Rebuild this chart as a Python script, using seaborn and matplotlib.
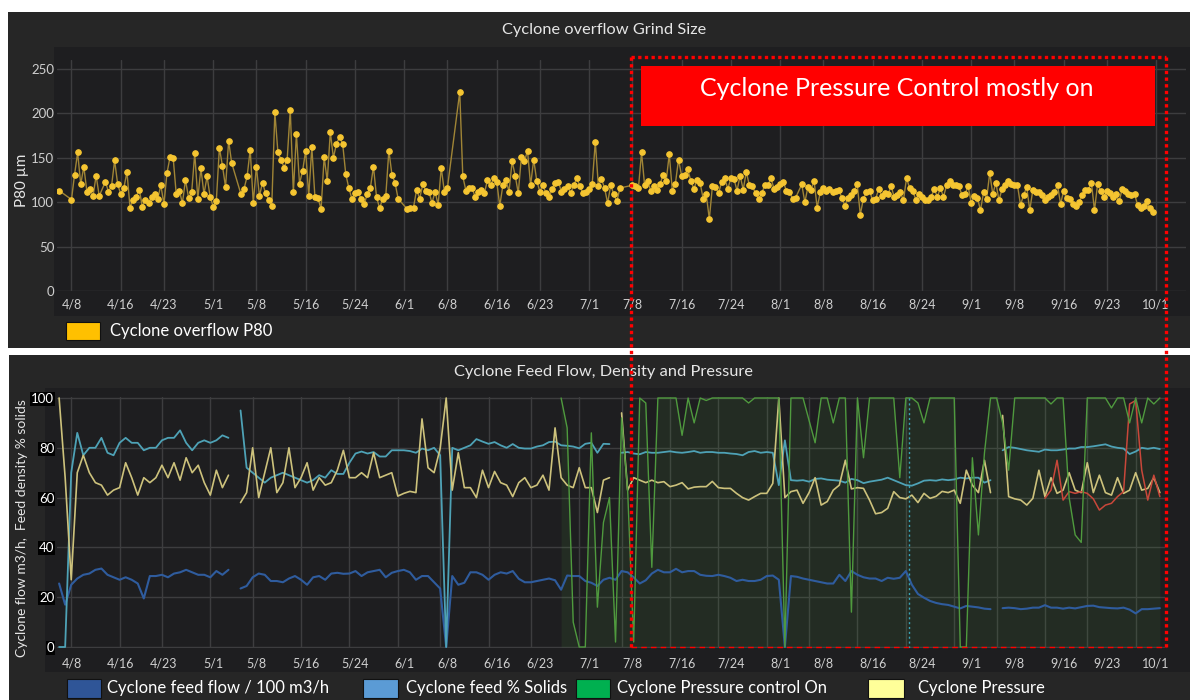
import numpy as np
import pandas as pd
import matplotlib
matplotlib.use("Agg")
import matplotlib.pyplot as plt
from matplotlib.patches import Rectangle
from matplotlib.lines import Line2D
import seaborn as sns

nan = np.nan

# ---- data ----

# cyclone overflow P80 (um), one sample every 12 h from 6 Apr
P80_START = "2021-04-06"
p80_um = [
    113, nan, nan, nan,
    103, 131, 156, 120, 140, 112, 115, 107, 130, 107,
    nan,
    123, 112, 118, 147, 120, 109, 116, 134, 94, 103, 106, 114, 95, 103, 99, 106, 109, 104, 119, 98,
    133, 151, 150, 109, 113, 99, 125, 105, 111, 155, 104, 138, 109, 129, 106, 95, 101, 161, 141, 117,
    169, 144,
    nan, nan,
    109, 115, 129, 159, 99, 140, 107, 122, 110, 103, 96, 201, 156, 148, 139, 148, 204, 111, 177, 121,
    135, 158, 107, 162, 106, 105, 92, 151, 124, 179, 150, 166, 173, 166, 132, 116,
    104, 110, 111, 104, 98, 109, 116, 140, 106, 93, 104, 107, 158, 131, 122, 104,
    nan, nan,
    92, 93, 94, 114, 104, 120, 113, 112, 99, 112, 97, 139, 112, 116,
    nan, nan, nan,
    224, 129, 113, 116, 116, 106, 111, 114, 110, 125, 119, 127, 123, 96, 119, 125, 112, 146, 130, 110,
    151, 146, 158, 119, 148, 124, 112, 119, 110, 106, 115, 122, 123, 112, 115, 118, 110, 119, 127, 118,
    110, 112, 115, 121, 168, 118, 126, 116, 99, 119, 109, 101, 116,
    nan, nan, nan,
    119, 118, 116,
    156, 119, 124, 113, 118, 114, 120, 131, 124, 154, 113, 121, 148, 130, 131, 137, 124, 115, 125, 122,
    104, 109, 81, 118, 117, 110, 123, 127, 115, 127, 126, 113, 130, 114, 134, 119, 118, 110, 104, 110,
    119, 119, 127, 115, 117, 120, 123, 113, 112, 104, 105,
    nan,
    120, 100, 117, 114, 124, 94, 111, 116, 113, 115, 112, 113, 114, 105, 96, 105, 108, 113, 120, 86,
    104, 111, 113, 102, 104, 115, 107, 110, 109, 118, 106, 108, 111, 102, 127, 116,
    113, 103, 109, 106, 102, 103, 106, 115, 106, 116, 106, 119, 124, 119, 119, 118, 108, 109, 118, 99,
    107, 105, 91, 111, 104, 133, 109, 122, 102, 115, 119, 124, 121, 119, 119, 97, 108, 117, 91, 114,
    111, 111, 108, 103, 106, 108, 111, 119, 98, 113, 105, 104, 98, 96, 100, 108, 114, 114, 122, 91,
    120, 113, 106, 113, 110, 106, 109, 101, 115, 113, 109, 108, 109, 97, 94, 96, 101, 93, 89,
]

# cyclone feed, one sample per day from 6 Apr
FEED_START = "2021-04-06"
feed_flow = [  # m3/h / 100
    25.5, 17, 25, 27.5, 29, 29.5, 31, 31.5, 29, 28, 27, 28, 27, 25.5, 19.5, 28.5, 28.5, 29, 28, 29.5,
    30, 31, 30, 29, 29, 28, 30.5, 29, 31, nan, 23.5, 24.5, 28, 29.5, 29, 26.5, 26.5, 26, 27.5, 28.5,
    27, 25, 28, 28.5, 27, 29.5,
    29.8, 29.4, 29.5, 30.5, 28.5, 30, 30.5, 31, 28, 29.8, 30.5, 31, 30, 27, 28.5, 28.5, 26, 23.5, 0, 28.5,
    25, 25.8, 30, 30, 29, 27, 29, 30, 29.5, 30.5, 27.4, 26, 26, 26.5, 27, 27.5, 26.8, 23, 28.7, 28.5,
    28.5, 26.5, 25.8, 24.5, 27, 27.8, 27,
    30.5, 30, 28, 25.5, 26.8, 29.5, 31, 30, 30, 31.4, 30, 30.5, 30.5, 29, 28.6, 28.5, 29, 28.5, 27.8, 26.5,
    27, 26.5, 26.5, 27, 28.5, 28.7, 27, 0, 28.5, 28.2, 27.5, 27, 26.5, 26, 25.5, 25.5, 29, 26.5, 30.5, 29,
    28, 27.5, 27.5, 26.5, 27.8, 27.4,
    27.8, 30.5, 25, 21.3, 19.8, 18.5, 17.7, 17.2, 16.9, 16.2, 15.5, 16.5, 16.2, 15.9, 15.4, 15.2, nan, 15.6,
    15.8, 15.6, 15.2, 15.4, 15.8, 15.8, 16.8, 15.8, 15.8, 15.4, 15.8, 15.5, 16, 16.5, 16.6, 16, 15.8, 15.6,
    15.5, 15.8, 15, 13.5, 15.2, 15.2, 15.4, 15.6,
]
feed_solids = [  # % solids
    0, 0, 70, 86, 77, 80, 80, 84, 78, 77, 82, 84, 82, 82, 79, 80, 80, 83, 84, 84,
    87, 82, 79, 82, 83, 82, 83, 85, 84, nan, 95, 72, 70, 68, 66, 68, 69, 70, 69, 68,
    67, 66, 67, 69, 68, 71,
    69.5, 69.5, 74, 77.7, 78.5, 77.7, 78.3, 76.5, 76.5, 79, 79, 79, 78.7, 78, 79.7, 79, 80, 77, 0, 80,
    79, 80, 81, 83.5, 82.5, 81.6, 82.3, 81, 80, 81.5, 80, 79.7, 79.7, 80.5, 81, 82.3, 82.5, 81, 80.8, 80.5,
    79.8, 81.6, 82, 78, 81.6, 81.5, nan,
    78, 78.3, 77.7, 77.4, 78.3, 78, 78, 78.3, 78.6, 78.2, 78, 78.3, 78.7, 78, 78.3, 78.3, 78, 78, 77.7, 77.5,
    77, 78.3, 78.7, 78, 78.3, 78, 65, 83, 67, 66.8, 67, 66.4, 67.5, 67.7, 67.2, 67, 66.8, 66, 67.5, 67,
    65.8, 66.4, 66.8, 67.2, 68, 67,
    66, 65, 64.8, 65.7, 66.8, 67, 66.8, 67.3, 67, 67.3, 68, 67.7, 68, 68, 66, 67, nan, 79,
    80.3, 80, 79.5, 79, 78.7, 78.4, 79.3, 79, 79, 79.3, 79.7, 79.7, 80.3, 80.3, 80.6, 81, 81.4, 80.5,
    80, 79.7, 77.5, 78.5, 80, 79.6, 80, 79.5,
]
cyclone_pressure = [
    100, 68, 27, 70, 77, 70, 66, 65, 61, 63, 64, 74, 68, 61, 68, 66, 68, 73, 68, 74,
    67, 76, 70, 73, 66, 61, 71, 64, 69, nan, 58, 62, 80, 60, 70, 80, 62, 66, 80, 64,
    68, 74, 63, 68, 65, 66,
    71, 79, 68, 68, 70, 68, 78, 68, 69, 70, 60.6, 61.7, 62.5, 62, 91.6, 72, 70, 79.7, 100, 63,
    78, 64, 64, 60, 71, 64, 70.5, 66, 65, 60.4, 66, 68, 64, 65, 69, 63, 88, 68, 65, 64,
    72, 64, 64, 54, 67, 68, nan,
    94, 63, 68, 67, 66, 67, 66, 66.4, 64.4, 65, 66, 63.5, 64.2, 64.4, 64.4, 66.5, 64, 63.7, 63.7, 61.7,
    60, 59, 60.4, 61.7, 61.7, 65.7, 100, 60, 62.4, 63, 57.7, 62, 68, 57, 58.4, 63, 65, 75, 63.5, 64,
    63.7, 59, 53.5, 54, 55.7, 62.4,
    60, 59.5, 61, 58, 61.7, 59.7, 60.5, 62.5, 62, 63, 57.7, 71, 65, 62, 75, 62, nan, 93,
    60.4, 59.5, 59, 57, 59.7, 71, 60.4, 68, 61.7, 63, 70, 63, 62, 74, 62, 69, 62, 61,
    68, 61.7, 63, 70, 63, 63.7, 68, 62,
]
pressure_control_on = [nan] * 83 + [
    100, 88, 10, 0, 0, 86, 16, 50, 60, 2,
    92, 63, 2, 100, 98, 32, 100, 100, 100, 100, 85, 100, 90, 100, 99, 100, 100, 100, 100, 100,
    100, 98, 100, 100, 100, 100, 100, 0, 100, 100, 100, 91, 82, 100, 100, 90, 100, 100, 14, 100,
    76, 100, 100, 100, 100, 100,
    68, 100, 100, 98, 90, 100, 100, 100, 100, 100, 0, 0, 76, 45, 78, 100, 100, 90,
    71, 100, 100, 100, 100, 100, 100, 97.6, 100, 100, 60, 45, 42, 100, 100, 100, 100, 96,
    100, 100, 90, 100, 90, 100, 97.6, 100,
]
cyclone_pressure_2 = [nan] * 163 + [
    59.7, 63, 75, 59, 62.4, 61.7, 62.4, 61.7, 59.5, 55, 57, 57.7, 60.4, 62.4, 97.6, 99, 71, 59, 69, 60.4,
]

TICK_LABELS = ["4/8", "4/16", "4/23", "5/1", "5/8", "5/16", "5/24", "6/1", "6/8", "6/16", "6/23", "7/1",
               "7/8", "7/16", "7/24", "8/1", "8/8", "8/16", "8/24", "9/1", "9/8", "9/16", "9/23", "10/1"]
YEAR = 2021
XLIM = (pd.Timestamp("2021-04-05 15:36"), pd.Timestamp("2021-10-05 20:24"))
MARKER_DATE = pd.Timestamp("2021-08-24 12:00")

assert len(p80_um) == 356
for s in (feed_flow, feed_solids, cyclone_pressure, pressure_control_on, cyclone_pressure_2):
    assert len(s) == 183, len(s)

# ---- layout helpers (figure pixels) ----
W, H = 1190, 700
PANEL = "#262626"
PLOT_BG = "#1e1e20"
GRID = "#3d3d3f"
TICK_COLOR = "#cfcfcf"


def rect_px(x0, y0, x1, y1):
    return [x0 / W, 1 - y1 / H, (x1 - x0) / W, (y1 - y0) / H]


def add_box(fig, x0, y0, x1, y1, **kw):
    l, b, w, h = rect_px(x0, y0, x1, y1)
    fig.add_artist(Rectangle((l, b), w, h, transform=fig.transFigure, **kw))


def text_px(fig, x, y, s, **kw):
    fig.text(x / W, 1 - y / H, s, **kw)


def style_axes(ax, tick_dates):
    ax.set_facecolor(PLOT_BG)
    for sp in ax.spines.values():
        sp.set_visible(False)
    ax.grid(True, color=GRID, lw=1)
    ax.set_xlim(XLIM)
    ax.set_xticks(tick_dates)
    ax.set_xlabel("")
    ax.set_ylabel("")
    ax.tick_params(length=0, colors=TICK_COLOR, labelsize=9)


sns.set_theme(style="dark")
plt.rcParams["font.family"] = ["Lato", "DejaVu Sans"]

fig = plt.figure(figsize=(W / 100, H / 100), dpi=100, facecolor="white")

# panel backgrounds
add_box(fig, 8, 12, 1190, 348, facecolor=PANEL, edgecolor="none", zorder=-3)
add_box(fig, 9, 355, 1190, 700, facecolor=PANEL, edgecolor="none", zorder=-3)
add_box(fig, 54, 47, 1190, 316, facecolor=PLOT_BG, edgecolor="none", zorder=-2)
add_box(fig, 45, 388, 1190, 672, facecolor=PLOT_BG, edgecolor="none", zorder=-2)

tick_dates = [pd.Timestamp(f"{YEAR}/{t}") for t in TICK_LABELS]

# ---- top: grind size ----
ax1 = fig.add_axes(rect_px(57, 60, 1186, 291))
p80 = pd.DataFrame({
    "time": pd.date_range(P80_START, periods=len(p80_um), freq="12h"),
    "p80": p80_um,
}).dropna()
sns.lineplot(data=p80, x="time", y="p80", ax=ax1, estimator=None, color="#a08536", lw=1,
             marker="o", markersize=4.0, markerfacecolor="#f5c531", markeredgecolor="#f5c531")
style_axes(ax1, tick_dates)
ax1.set_xticklabels(TICK_LABELS)
ax1.set_ylim(0, 260.1)
ax1.set_yticks([0, 50, 100, 150, 200, 250])
ax1.tick_params(axis="x", pad=5.5)
ax1.tick_params(axis="y", pad=2, labelsize=9.5)

text_px(fig, 604, 30, "Cyclone overflow Grind Size", ha="center", va="center", color="#e6e6e6", fontsize=11.8)
text_px(fig, 22, 180, "P80 µm", ha="center", va="center", rotation=90, color="#e6e6e6", fontsize=11)
add_box(fig, 66, 322, 100, 340, facecolor="#FFC000", edgecolor="#111111", lw=0.8)
text_px(fig, 110, 331, "Cyclone overflow P80", ha="left", va="center", color="white", fontsize=12)

# ---- bottom: feed flow, density and pressure ----
ax2 = fig.add_axes(rect_px(57, 397, 1165, 648))
feed = pd.DataFrame({
    "time": pd.date_range(FEED_START, periods=183, freq="D"),
    "flow": feed_flow,
    "solids": feed_solids,
    "pressure": cyclone_pressure,
    "control": pressure_control_on,
    "pressure2": cyclone_pressure_2,
})

ax2.fill_between(feed["time"], 0, feed["control"], color="#55b042", alpha=0.1, lw=0)


def draw_series(col, color, lw):
    seg = feed[col].isna().cumsum()
    d = feed.assign(seg=seg).dropna(subset=[col])
    sns.lineplot(data=d, x="time", y=col, units="seg", estimator=None, ax=ax2, color=color, lw=lw)


draw_series("flow", "#2f5c9e", 1.5)
draw_series("solids", "#4ea2b6", 1.3)
draw_series("pressure", "#cdc27c", 1.2)
draw_series("pressure2", "#c9473a", 1.1)
draw_series("control", "#4f9a3e", 1.0)
ax2.axvline(MARKER_DATE, color="#3aa6b8", lw=1, ls=(0, (1.5, 2)))

style_axes(ax2, tick_dates)
ax2.tick_params(axis="x", labelbottom=False)
ax2.set_ylim(-0.4, 100.4)
ax2.set_yticks([0, 20, 40, 60, 80, 100])
ax2.tick_params(axis="y", pad=2, labelsize=9.5, colors="white")
for lbl in ax2.get_yticklabels():
    lbl.set_bbox(dict(facecolor="black", edgecolor="none", pad=0.8))

# date labels of the lower chart sit on the upper chart's scale
ax3 = fig.add_axes(rect_px(57, 397, 1186, 648))
ax3.patch.set_alpha(0)
for sp in ax3.spines.values():
    sp.set_visible(False)
ax3.set_xlim(XLIM)
ax3.set_xticks(tick_dates)
ax3.set_xticklabels(TICK_LABELS)
ax3.set_yticks([])
ax3.grid(False)
ax3.tick_params(length=0, colors=TICK_COLOR, labelsize=9, pad=6.5)

text_px(fig, 604, 372, "Cyclone Feed Flow, Density and Pressure", ha="center", va="center",
        color="#e6e6e6", fontsize=11.8)
text_px(fig, 22, 528, "Cyclone flow m3/h,  Feed density % solids", ha="center", va="center",
        rotation=90, color="#e6e6e6", fontsize=10)

legend_items = [
    ("Cyclone feed flow / 100 m3/h", "#2F5597", 67, 101, 107),
    ("Cyclone feed % Solids", "#5B9BD5", 363, 398, 406),
    ("Cyclone Pressure control On", "#00B050", 576, 610, 617),
    ("Cyclone Pressure", "#FFFF99", 868, 904, 918),
]
for label, color, sx0, sx1, tx in legend_items:
    add_box(fig, sx0, 679, sx1, 698, facecolor=color, edgecolor="#111111", lw=0.8)
    text_px(fig, tx, 688, label, ha="left", va="center", color="white", fontsize=12)

# ---- annotation: controller period ----
add_box(fig, 641, 66, 1155, 126, facecolor="#ff0000", edgecolor="none", zorder=5)
text_px(fig, 897, 89, "Cyclone Pressure Control mostly on", ha="center", va="center",
        color="white", fontsize=18, zorder=6)

frame_x0, frame_x1, frame_y0, frame_y1 = 631, 1166, 57, 647
dotted = dict(color="#ff0000", lw=2.4, ls=(0, (1, 1)), transform=fig.transFigure, zorder=7)
for xs, ys in [((frame_x0, frame_x0), (frame_y0, frame_y1)),
               ((frame_x0, frame_x1), (frame_y0, frame_y0)),
               ((frame_x1, frame_x1), (frame_y0, frame_y1))]:
    fig.add_artist(Line2D([x / W for x in xs], [1 - y / H for y in ys], **dotted))
fig.add_artist(Line2D([frame_x0 / W, frame_x1 / W], [1 - frame_y1 / H] * 2, color="#ff0000",
                      lw=1, ls=(0, (4, 3)), transform=fig.transFigure, zorder=7))

fig.savefig("out.png", dpi=100, facecolor="white")
